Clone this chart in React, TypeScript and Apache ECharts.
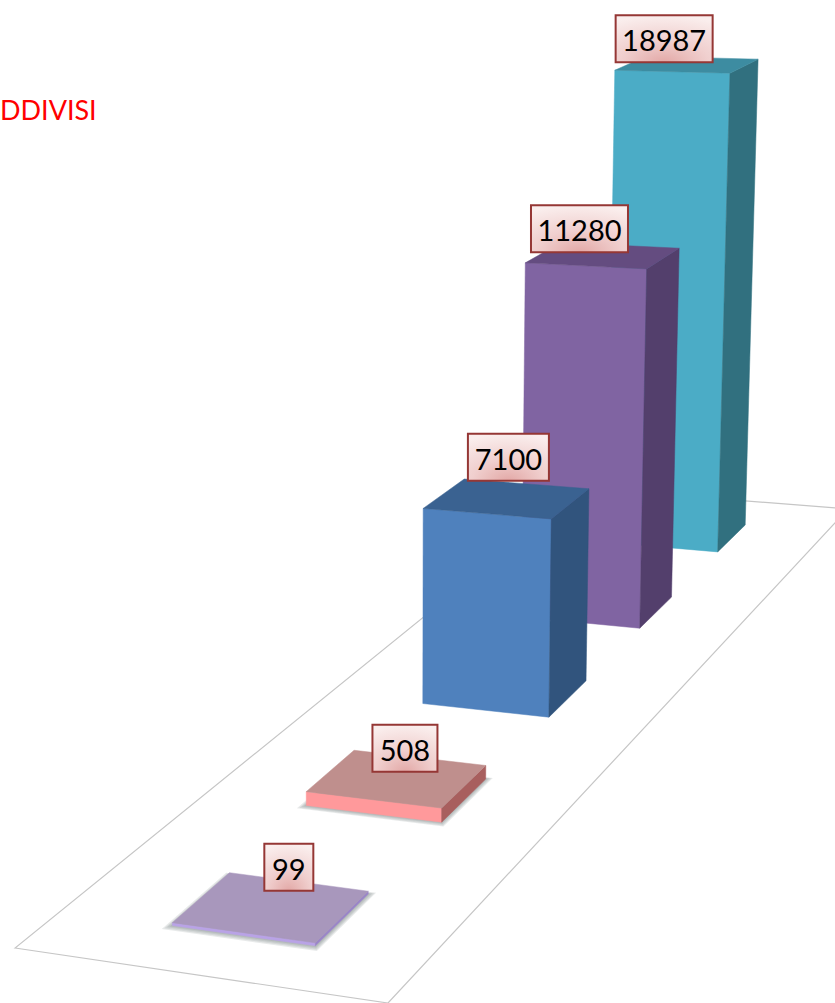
import React, { useEffect, useRef } from "react";
import * as echarts from "echarts";

// Data, nearest bar first
const categories = ["1", "2", "3", "4", "5"];
const values = [99, 508, 7100, 11280, 18987];
const titleText = "DDIVISI";

// Face colours per bar
const frontColors = ["#B9A3E6", "#FF999B", "#4F81BD", "#8064A2", "#4BACC6"];
const topColors = ["#A897BC", "#BF8F8D", "#3A6291", "#644C80", "#3D8CA1"];
const sideColors = ["#9A85C8", "#A85F5E", "#31547D", "#533F6C", "#31707F"];

// Perspective apparent height gain per bar, and label offset from top-face centre
const heightGain = [0.91, 0.91, 1.0, 1.235, 1.052];
const labelOffsetX = [17.5, 8, 1.5, -23.5, -23];
const labelOffsetY = [-40, -30.5, -41.5, -27, -26];
const nearEdgeShift = [0.008, 0, 0, 0, 0];
const depthShift = [-0.004, -0.007, -0.007, -0.007, -0.007];

const W = 835;
const H = 1003;

// Floor-plane calibration: homography of the unit square
const hg = { a: 354.4, b: 854.1, c: 15, d: 6.9, e: -220.5, f: 948, g: -0.04796, h: 0.4908 };
const vanishX = 400;
const vanishY = 13000;

function project(u: number, v: number, amount: number): number[] {
  const w = hg.g * u + hg.h * v + 1;
  const x = (hg.a * u + hg.b * v + hg.c) / w;
  const y = (hg.d * u + hg.e * v + hg.f) / w;
  const px = amount / w;
  return [x + ((x - vanishX) / (vanishY - y)) * px, y - px];
}

const U0 = 0.305;
const U1 = 0.705;
const DEPTH_RATIO = 0.39;

function box(api: any) {
  const i = api.value(0);
  const val = api.value(1);
  const base = api.coord([i, 0]);
  const top = api.coord([i, val]);
  const vc = base[0] / W + depthShift[i];
  const half = ((api.size([1, 0])[0] / W) * DEPTH_RATIO) / 2;
  const amt = (base[1] - top[1]) * heightGain[i];
  const v0 = vc - half;
  const v1 = vc + half;
  const u0 = U0 + nearEdgeShift[i];
  return {
    i,
    val,
    u0,
    v0,
    v1,
    bFL: project(u0, v0, 0),
    bFR: project(U1, v0, 0),
    bBR: project(U1, v1, 0),
    bBL: project(u0, v1, 0),
    tFL: project(u0, v0, amt),
    tFR: project(U1, v0, amt),
    tBR: project(U1, v1, amt),
    tBL: project(u0, v1, amt),
  };
}

const poly = (points: number[][], fill: string, extra: any = {}) => ({
  type: "polygon",
  shape: { points },
  style: { fill, stroke: fill, lineWidth: 0.5, ...extra },
  silent: true,
});

function renderBar(_: any, api: any) {
  const b = box(api);
  const children: any[] = [];
  if (b.val < 1000) {
    // soft contact shadow: stacked, slightly widening footprints
    [0.016, 0.012, 0.008, 0.004].forEach((m) => {
      children.push({
        type: "polygon",
        shape: {
          points: [
            project(b.u0 - m, b.v0 - m * 0.4, 0),
            project(U1 + m, b.v0 - m * 0.4, 0),
            project(U1 + m, b.v1 + m * 0.2, 0),
            project(b.u0 - m, b.v1 + m * 0.2, 0),
          ],
        },
        style: { fill: "rgba(95,105,105,0.14)" },
        silent: true,
      });
    });
  }
  children.push(poly([b.bFL, b.bFR, b.tFR, b.tFL], frontColors[b.i]));
  children.push(poly([b.bFR, b.bBR, b.tBR, b.tFR], sideColors[b.i]));
  children.push(poly([b.tFL, b.tFR, b.tBR, b.tBL], topColors[b.i]));
  return { type: "group", children };
}

function renderLabel(_: any, api: any) {
  const b = box(api);
  const cx = (b.tFL[0] + b.tFR[0] + b.tBR[0] + b.tBL[0]) / 4 + labelOffsetX[b.i];
  const cy = (b.tFL[1] + b.tFR[1] + b.tBR[1] + b.tBL[1]) / 4 + labelOffsetY[b.i];
  const text = String(b.val);
  const w = text.length * 16 + 17;
  const h = 47;
  return {
    type: "group",
    children: [
      {
        type: "rect",
        shape: { x: cx - w / 2, y: cy - h / 2, width: w, height: h },
        style: {
          fill: new echarts.graphic.RadialGradient(0.5, 1, 1, [
            { offset: 0, color: "#E3A9A7" },
            { offset: 0.45, color: "#F0CFCE" },
            { offset: 1, color: "#FAEEED" },
          ]),
          stroke: "#953735",
          lineWidth: 2,
        },
      },
      {
        type: "text",
        style: {
          x: cx,
          y: cy + 1,
          text,
          fill: "#000",
          font: "29px Lato",
          align: "center",
          verticalAlign: "middle",
        },
      },
    ],
  };
}

function renderFloor(_: any, api: any) {
  const corner = (u: number, v: number) => project(u, v, 0);
  return {
    type: "polygon",
    shape: { points: [corner(0, 0), corner(1, 0), corner(1, 1), corner(0, 1)] },
    style: { fill: "#fff", stroke: "#C6C6C6", lineWidth: 1.2 },
    silent: true,
  };
}

export default function App() {
  const ref = useRef<HTMLDivElement>(null);
  useEffect(() => {
    document.body.style.margin = "0";
    document.body.style.overflow = "hidden";
    const chart = echarts.init(ref.current!, undefined, { renderer: "svg" });
    const farFirst = values.map((v, i) => [i, v]).reverse();
    chart.setOption({
      animation: false,
      backgroundColor: "#fff",
      title: {
        text: titleText,
        left: 0,
        top: 96,
        padding: 0,
        textStyle: { color: "#FF0000", fontFamily: "Lato", fontSize: 27, fontWeight: "normal" },
      },
      grid: { left: 0, right: 0, top: 0, height: 664 },
      xAxis: { type: "category", data: categories, show: false },
      yAxis: { type: "value", min: 0, max: 20000, show: false },
      series: [
        {
          type: "custom",
          z: 1,
          clip: false,
          coordinateSystem: "cartesian2d",
          renderItem: renderFloor,
          data: [[0, 0]],
          encode: { x: 0, y: 1 },
        },
        {
          type: "custom",
          z: 2,
          clip: false,
          renderItem: renderBar,
          data: farFirst,
          encode: { x: 0, y: 1 },
        },
        {
          type: "custom",
          z: 3,
          clip: false,
          renderItem: renderLabel,
          data: farFirst,
          encode: { x: 0, y: 1 },
        },
      ],
    });
    return () => chart.dispose();
  }, []);
  return <div ref={ref} style={{ width: W, height: H }} />;
}
